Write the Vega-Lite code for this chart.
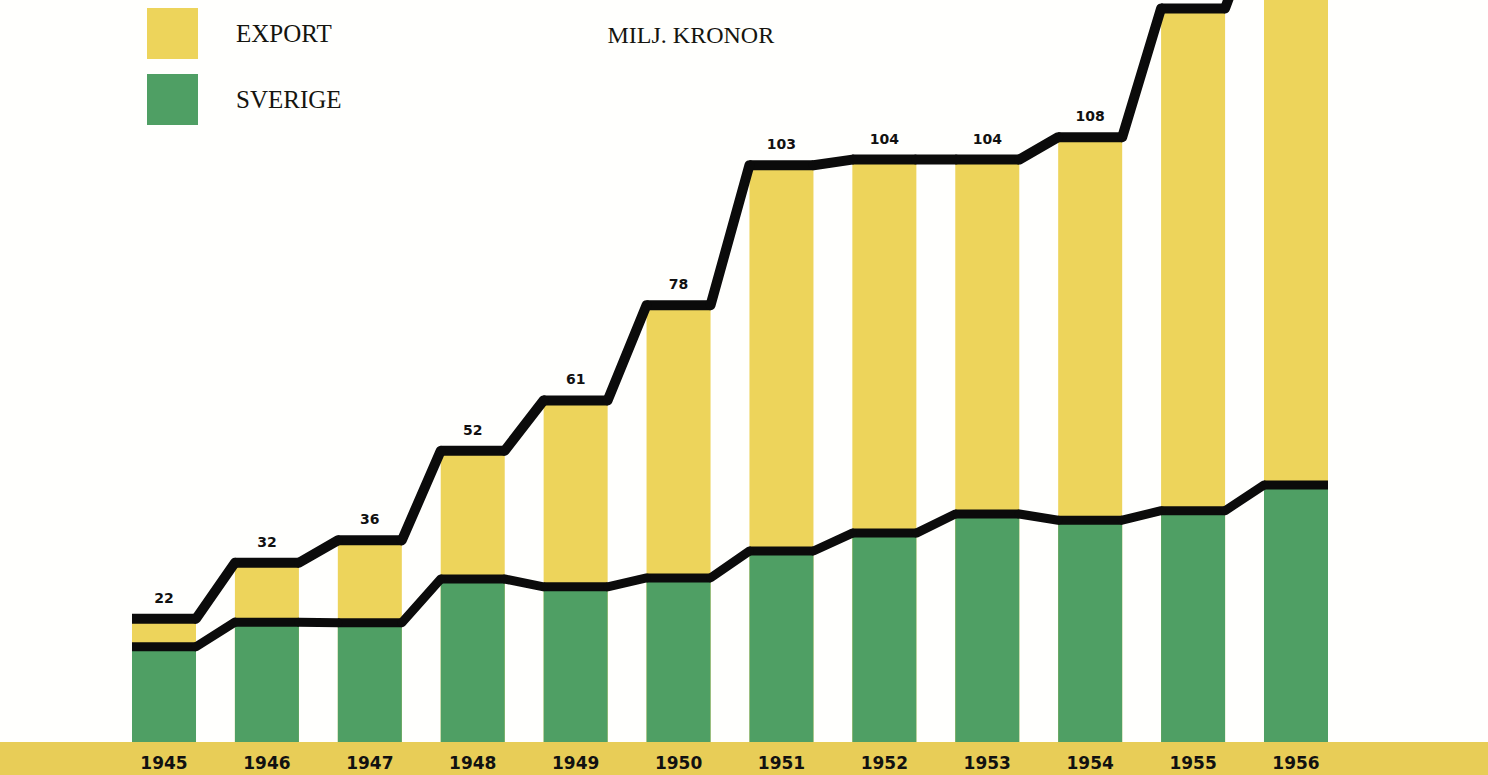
{
  "$schema": "https://vega.github.io/schema/vega-lite/v6.json",
  "width": 1488,
  "height": 775,
  "autosize": "none",
  "padding": 0,
  "background": "#FFFFFD",
  "datasets": {
    "d": [
      {"year": "1945", "total": 22, "sverige": 17.0, "next_year": "1946", "next_total": 32, "next_sverige": 21.4},
      {"year": "1946", "total": 32, "sverige": 21.4, "next_year": "1947", "next_total": 36, "next_sverige": 21.3},
      {"year": "1947", "total": 36, "sverige": 21.3, "next_year": "1948", "next_total": 52, "next_sverige": 29.1},
      {"year": "1948", "total": 52, "sverige": 29.1, "next_year": "1949", "next_total": 61, "next_sverige": 27.7},
      {"year": "1949", "total": 61, "sverige": 27.7, "next_year": "1950", "next_total": 78, "next_sverige": 29.3},
      {"year": "1950", "total": 78, "sverige": 29.3, "next_year": "1951", "next_total": 103, "next_sverige": 34.1},
      {"year": "1951", "total": 103, "sverige": 34.1, "next_year": "1952", "next_total": 104, "next_sverige": 37.3},
      {"year": "1952", "total": 104, "sverige": 37.3, "next_year": "1953", "next_total": 104, "next_sverige": 40.7},
      {"year": "1953", "total": 104, "sverige": 40.7, "next_year": "1954", "next_total": 108, "next_sverige": 39.6},
      {"year": "1954", "total": 108, "sverige": 39.6, "next_year": "1955", "next_total": 131, "next_sverige": 41.3},
      {"year": "1955", "total": 131, "sverige": 41.3, "next_year": "1956", "next_total": 150, "next_sverige": 45.9},
      {"year": "1956", "total": 150, "sverige": 45.9, "next_year": null, "next_total": null, "next_sverige": null}
    ]
  },
  "resolve": {"scale": {"x": "shared", "y": "shared", "color": "shared"}},
  "layer": [
    {
      "data": {"values": [{}]},
      "mark": {"type": "rect", "color": "#E8CD57"},
      "encoding": {
        "y": {
          "datum": -5.9, "type": "quantitative",
          "scale": {"domain": [-5.9, 132.5], "nice": false, "zero": false},
          "axis": {"title": "MILJ. KRONOR", "orient": "left", "zindex": 2, "labels": false, "ticks": false, "domain": false, "grid": false, "titleAngle": 0, "titleAlign": "left", "titleBaseline": "middle", "titleX": 607, "titleY": 35, "titleFont": "Liberation Serif", "titleFontSize": 24, "titleFontWeight": "normal", "titleColor": "#15150f"}
        },
        "y2": {"datum": 0}
      }
    },
    {
      "data": {"name": "d"},
      "mark": {"type": "bar"},
      "encoding": {
        "x": {
          "field": "year", "type": "ordinal",
          "scale": {"range": [132, 1328], "paddingInner": 0.378, "paddingOuter": 0},
          "axis": {"title": null, "orient": "bottom", "zindex": 2, "domain": false, "ticks": false, "grid": false, "labelAngle": 0, "offset": -12, "labelPadding": 0, "labelBaseline": "middle", "labelFont": "DejaVu Sans", "labelFontSize": 17, "labelFontWeight": "bold", "labelColor": "#111111"}
        },
        "y": {"field": "total", "type": "quantitative", "title": "MILJ. KRONOR"},
        "y2": {"datum": 0},
        "color": {
          "datum": "EXPORT",
          "scale": {"domain": ["EXPORT", "SVERIGE"], "range": ["#EDD45B", "#4F9F64"]},
          "legend": {
            "title": null,
            "orient": "none",
            "legendX": 147,
            "legendY": 8,
            "direction": "vertical",
            "padding": 0,
            "symbolType": "square",
            "symbolSize": 2600,
            "symbolStrokeWidth": 0,
            "symbolOpacity": 1,
            "rowPadding": 15,
            "labelOffset": 38,
            "labelFont": "Liberation Serif",
            "labelFontSize": 25,
            "labelColor": "#15150f",
            "labelBaseline": "middle"
          }
        }
      }
    },
    {
      "data": {"name": "d"},
      "mark": {"type": "bar"},
      "encoding": {
        "x": {"field": "year", "type": "ordinal"},
        "y": {"field": "sverige", "type": "quantitative", "title": "MILJ. KRONOR"},
        "y2": {"datum": 0},
        "color": {"datum": "SVERIGE"}
      }
    },
    {
      "data": {"name": "d"},
      "mark": {"type": "rule", "color": "#0b0b0b", "strokeWidth": 9, "strokeCap": "butt"},
      "encoding": {
        "x": {"field": "year", "type": "ordinal", "bandPosition": 0},
        "x2": {"field": "year", "bandPosition": 1},
        "y": {"field": "sverige", "type": "quantitative", "title": "MILJ. KRONOR"}
      }
    },
    {
      "data": {"name": "d"},
      "transform": [{"filter": "datum.next_year != null"}],
      "mark": {"type": "rule", "color": "#0b0b0b", "strokeWidth": 9, "strokeCap": "round"},
      "encoding": {
        "x": {"field": "year", "type": "ordinal", "bandPosition": 1},
        "x2": {"field": "next_year", "bandPosition": 0},
        "y": {"field": "sverige", "type": "quantitative", "title": "MILJ. KRONOR"},
        "y2": {"field": "next_sverige"}
      }
    },
    {
      "data": {"name": "d"},
      "mark": {"type": "rule", "color": "#0b0b0b", "strokeWidth": 10, "strokeCap": "butt"},
      "encoding": {
        "x": {"field": "year", "type": "ordinal", "bandPosition": 0},
        "x2": {"field": "year", "bandPosition": 1},
        "y": {"field": "total", "type": "quantitative", "title": "MILJ. KRONOR"}
      }
    },
    {
      "data": {"name": "d"},
      "transform": [{"filter": "datum.next_year != null"}],
      "mark": {"type": "rule", "color": "#0b0b0b", "strokeWidth": 10, "strokeCap": "round"},
      "encoding": {
        "x": {"field": "year", "type": "ordinal", "bandPosition": 1},
        "x2": {"field": "next_year", "bandPosition": 0},
        "y": {"field": "total", "type": "quantitative", "title": "MILJ. KRONOR"},
        "y2": {"field": "next_total"}
      }
    },
    {
      "data": {"name": "d"},
      "transform": [{"filter": "datum.total < 125"}],
      "mark": {"type": "text", "dy": -20, "baseline": "middle", "align": "center", "font": "DejaVu Sans", "fontSize": 14, "fontWeight": "bold", "color": "#111111"},
      "encoding": {
        "x": {"field": "year", "type": "ordinal"},
        "y": {"field": "total", "type": "quantitative", "title": "MILJ. KRONOR"},
        "text": {"field": "total", "type": "quantitative"}
      }
    }
  ],
  "config": {"view": {"stroke": null}}
}
